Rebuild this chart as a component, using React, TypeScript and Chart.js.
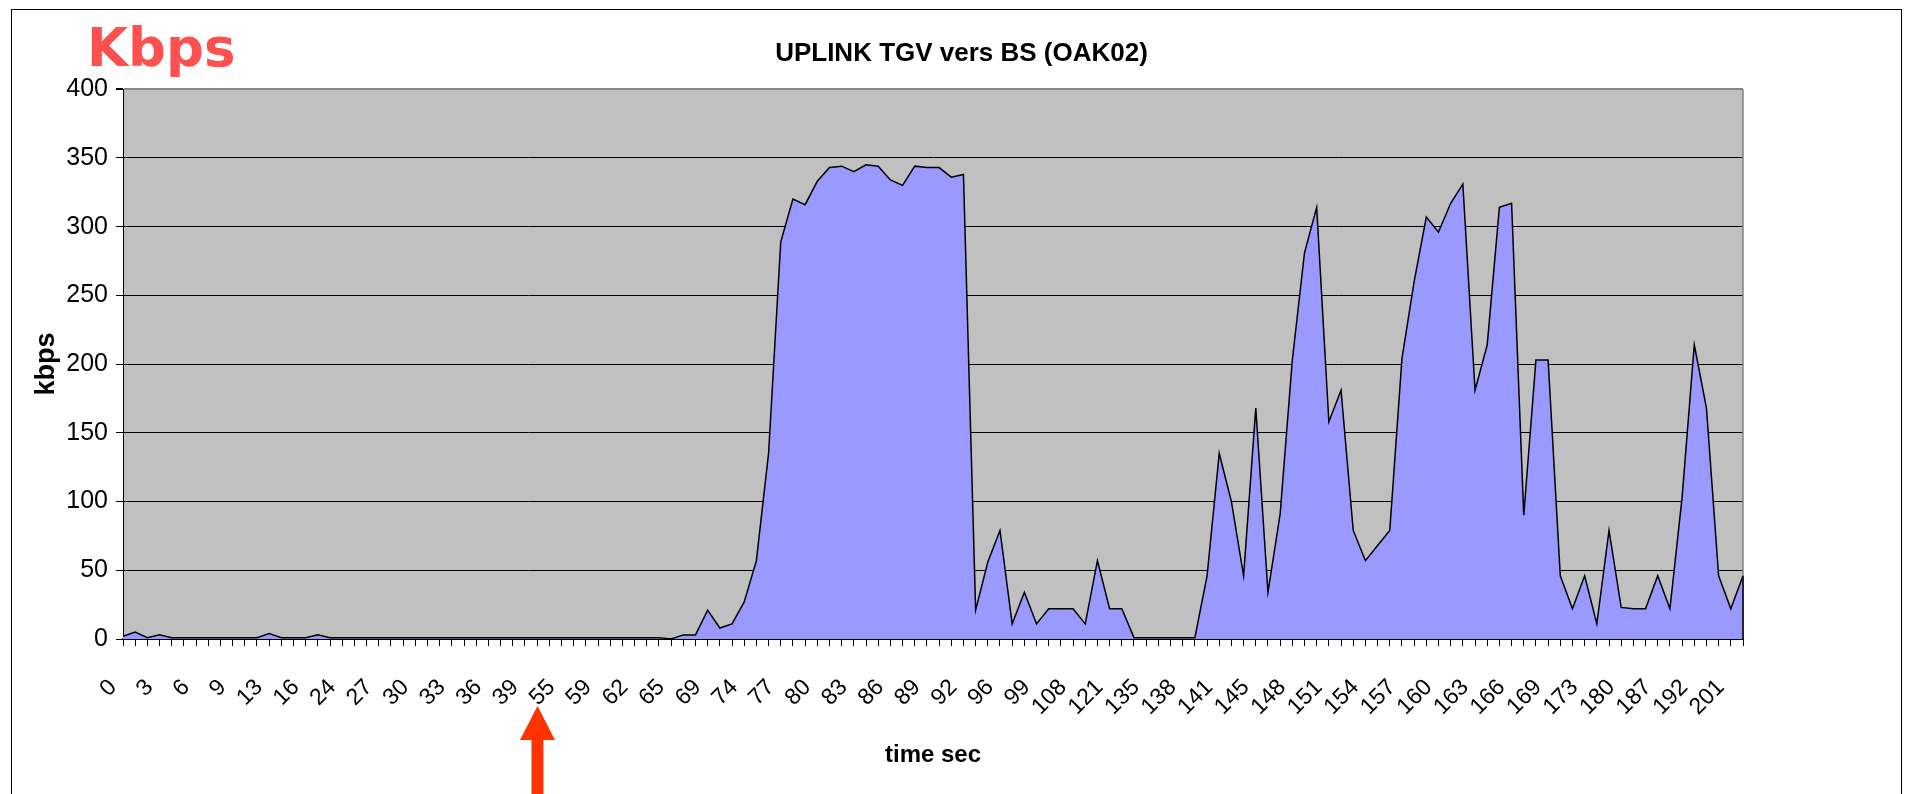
import React, { useEffect, useRef } from 'react';
import { Chart, registerables } from 'chart.js';

Chart.register(...registerables);

// Time labels shown under every third sample (seconds)
const timeLabels = [
  0, 3, 6, 9, 13, 16, 24, 27, 30, 33, 36, 39, 55, 59, 62, 65, 69, 74, 77, 80, 83, 86, 89, 92,
  96, 99, 108, 121, 135, 138, 141, 145, 148, 151, 154, 157, 160, 163, 166, 169, 173, 180, 187,
  192, 201,
];

// Uplink throughput samples (kbps)
const kbpsValues = [
  2, 5, 1, 3, 1, 1, 1, 1, 1, 1,
  1, 1, 4, 1, 1, 1, 3, 1, 1, 1,
  1, 1, 1, 1, 1, 1, 1, 1, 1, 1,
  1, 1, 1, 1, 1, 1, 1, 1, 1, 1,
  1, 1, 1, 1, 1, 0, 3, 3, 21, 8,
  11, 27, 57, 135, 289, 320, 316, 333, 343, 344,
  340, 345, 344, 334, 330, 344, 343, 343, 336, 338,
  21, 56, 79, 11, 34, 11, 22, 22, 22, 11,
  57, 22, 22, 1, 1, 1, 1, 1, 1, 46,
  135, 100, 46, 168, 34, 91, 203, 281, 314, 158,
  181, 79, 57, 68, 79, 204, 260, 307, 296, 317,
  331, 181, 214, 314, 317, 90, 203, 203, 46, 22,
  46, 11, 79, 23, 22, 22, 46, 22, 103, 214,
  168, 46, 22, 46,
];

const labelEvery = 3;
const yMin = 0;
const yMax = 400;
const yStep = 50;
const arrowCategoryIndex = 36; // points at the "55" label

const chartTitle = 'UPLINK TGV vers BS (OAK02)';
const yTitle = 'kbps';
const xTitle = 'time sec';
const cornerText = 'Kbps';

const categories = kbpsValues.map((_, i) =>
  i % labelEvery === 0 ? String(timeLabels[i / labelEvery]) : ''
);

const W = 1914;
const H = 794;

export default function App() {
  const ref = useRef<HTMLCanvasElement>(null);

  useEffect(() => {
    const canvas = ref.current;
    if (!canvas) return;

    const decor = {
      id: 'decor',
      beforeDraw(chart: any) {
        const { ctx, chartArea: a } = chart;
        ctx.save();
        ctx.fillStyle = '#ffffff';
        ctx.fillRect(0, 0, chart.width, chart.height);
        ctx.strokeStyle = '#000000';
        ctx.lineWidth = 1;
        ctx.strokeRect(11.5, 9.5, 1890, 900);
        ctx.fillStyle = '#C0C0C0';
        ctx.fillRect(a.left, a.top, a.right - a.left, a.bottom - a.top);
        ctx.restore();
      },
      afterDraw(chart: any) {
        const { ctx, chartArea: a, scales } = chart;
        ctx.save();
        // plot area right border
        ctx.strokeStyle = '#808080';
        ctx.lineWidth = 1.5;
        ctx.beginPath();
        ctx.moveTo(a.right, a.top);
        ctx.lineTo(a.right, a.bottom);
        ctx.stroke();
        // closing edge of the area at the end of the series
        const lastIdx = kbpsValues.length - 1;
        const yLast = scales.y.getPixelForValue(kbpsValues[lastIdx]);
        const xLast = scales.x.getPixelForValue(lastIdx);
        ctx.strokeStyle = '#000000';
        ctx.lineWidth = 1.5;
        ctx.beginPath();
        ctx.moveTo(xLast, yLast);
        ctx.lineTo(xLast, a.bottom);
        ctx.stroke();

        // corner label
        ctx.fillStyle = '#FF5050';
        ctx.font = 'bold 53px "DejaVu Sans", Verdana, sans-serif';
        ctx.textAlign = 'left';
        ctx.textBaseline = 'alphabetic';
        ctx.fillText(cornerText, 87, 66);

        // red arrow under the axis
        const tipX = scales.x.getPixelForValue(arrowCategoryIndex) - 24;
        ctx.fillStyle = '#FF3300';
        ctx.beginPath();
        ctx.moveTo(tipX, 706);
        ctx.lineTo(tipX + 17.5, 740);
        ctx.lineTo(tipX + 6, 740);
        ctx.lineTo(tipX + 6, H + 10);
        ctx.lineTo(tipX - 6, H + 10);
        ctx.lineTo(tipX - 6, 740);
        ctx.lineTo(tipX - 17.5, 740);
        ctx.closePath();
        ctx.fill();
        ctx.restore();
      },
    };

    const chart = new Chart(canvas, {
      type: 'line',
      data: {
        labels: categories,
        datasets: [
          {
            data: kbpsValues,
            borderColor: '#000000',
            borderWidth: 1.5,
            backgroundColor: '#9999FF',
            fill: 'origin',
            pointRadius: 0,
            tension: 0,
            yAxisID: 'y',
          },
        ],
      },
      options: {
        animation: false,
        responsive: false,
        maintainAspectRatio: false,
        events: [],
        layout: { padding: { left: 9, right: 0, top: 20, bottom: 0 } },
        plugins: {
          legend: { display: false },
          tooltip: { enabled: false },
          title: {
            display: true,
            text: chartTitle,
            color: '#000000',
            font: { family: '"Liberation Sans", Arial, sans-serif', size: 26, weight: 'bold' },
            padding: { top: 18, bottom: 20 },
          },
        },
        scales: {
          x: {
            type: 'category',
            offset: false,
            afterFit: (s: any) => {
              s.height = 155;
            },
            border: { display: true, color: '#000000', width: 2 },
            grid: {
              drawOnChartArea: false,
              drawTicks: true,
              tickLength: 7,
              color: '#000000',
              tickColor: '#000000',
              tickWidth: 1,
            },
            ticks: {
              autoSkip: false,
              minRotation: 45,
              maxRotation: 45,
              padding: 28,
              labelOffset: -10,
              color: '#000000',
              font: { family: '"Liberation Sans", Arial, sans-serif', size: 23 },
            },
            title: {
              display: true,
              text: xTitle,
              color: '#000000',
              font: { family: '"Liberation Sans", Arial, sans-serif', size: 24, weight: 'bold' },
              padding: { top: 0, bottom: 24 },
            },
          },
          y: {
            min: yMin,
            max: yMax,
            position: 'left',
            afterFit: (s: any) => {
              s.width = 114;
            },
            border: { display: true, color: '#000000', width: 1 },
            grid: {
              color: (c: any) => (c.tick && c.tick.value === yMax ? '#888888' : '#000000'),
              lineWidth: (c: any) => (c.tick && c.tick.value === yMax ? 2 : 1),
              tickColor: '#000000',
              tickLength: 7,
            },
            ticks: {
              stepSize: yStep,
              padding: 8,
              color: '#000000',
              font: { family: '"Liberation Sans", Arial, sans-serif', size: 25 },
            },
            title: {
              display: true,
              text: yTitle,
              color: '#000000',
              font: { family: '"Liberation Sans", Arial, sans-serif', size: 27, weight: 'bold' },
              padding: { top: 21, bottom: 0 },
            },
          },
          // empty right-hand margin box so the title centres on the whole frame
          yRight: {
            position: 'right',
            min: yMin,
            max: yMax,
            display: true,
            afterFit: (s: any) => {
              s.width = 171;
            },
            border: { display: false },
            grid: { display: false, drawOnChartArea: false, drawTicks: false },
            ticks: { display: false },
          },
        },
      },
      plugins: [decor],
    });

    return () => {
      chart.destroy();
    };
  }, []);

  return (
    <div style={{ position: 'absolute', left: 0, top: 0, width: W, height: H, overflow: 'hidden' }}>
      <canvas ref={ref} width={W} height={H} style={{ display: 'block', width: W, height: H }} />
    </div>
  );
}
